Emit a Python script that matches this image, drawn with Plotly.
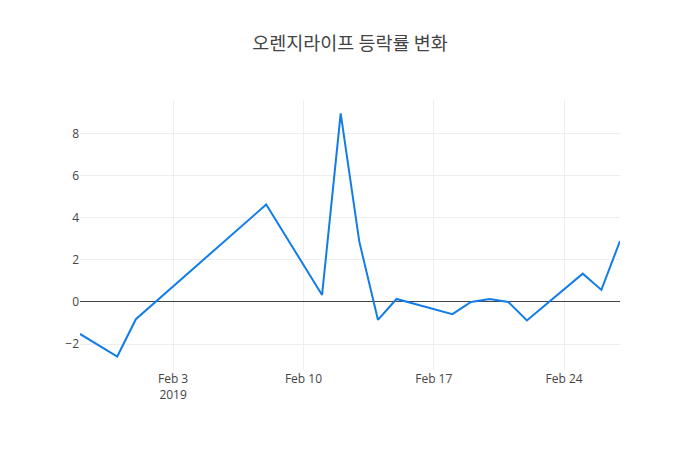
import plotly.graph_objects as go

dates = ["2019-01-29", "2019-01-31", "2019-02-01", "2019-02-08", "2019-02-11",
         "2019-02-12", "2019-02-13", "2019-02-14", "2019-02-15", "2019-02-18",
         "2019-02-19", "2019-02-20", "2019-02-21", "2019-02-22", "2019-02-25",
         "2019-02-26", "2019-02-27"]
changes = [-1.52, -2.59, -0.82, 4.62, 0.33,
           8.95, 2.86, -0.85, 0.14, -0.58,
           0.0, 0.14, 0.0, -0.88, 1.34,
           0.57, 2.89]

title_text = "오렌지라이프 등락률 변화"

fig = go.Figure()
fig.add_trace(go.Scatter(
    x=dates, y=changes, mode="lines",
    line=dict(color="#127ce8", width=2),
))
fig.update_layout(
    template="none",
    width=692, height=442,
    margin=dict(l=72, r=80, t=92, b=80),
    paper_bgcolor="white", plot_bgcolor="white",
    font=dict(family="Open Sans, 'Noto Sans CJK KR', sans-serif", size=12, color="#444"),
    title=dict(text=title_text, x=0.5 - 4/692, xanchor="center", y=1 - 36/442, yanchor="middle",
               font=dict(family="'Noto Sans CJK KR', 'Open Sans', sans-serif", size=18.5, color="#444")),
    showlegend=False,
    xaxis=dict(showgrid=True, gridcolor="#eee", gridwidth=1, zeroline=False,
               showline=False, ticks=""),
    yaxis=dict(showgrid=True, gridcolor="#eee", gridwidth=1, zeroline=True,
               zerolinecolor="#444", zerolinewidth=1, showline=False, ticks="",
               range=[-3.23, 9.58]),
)
fig.write_html("out.html")
